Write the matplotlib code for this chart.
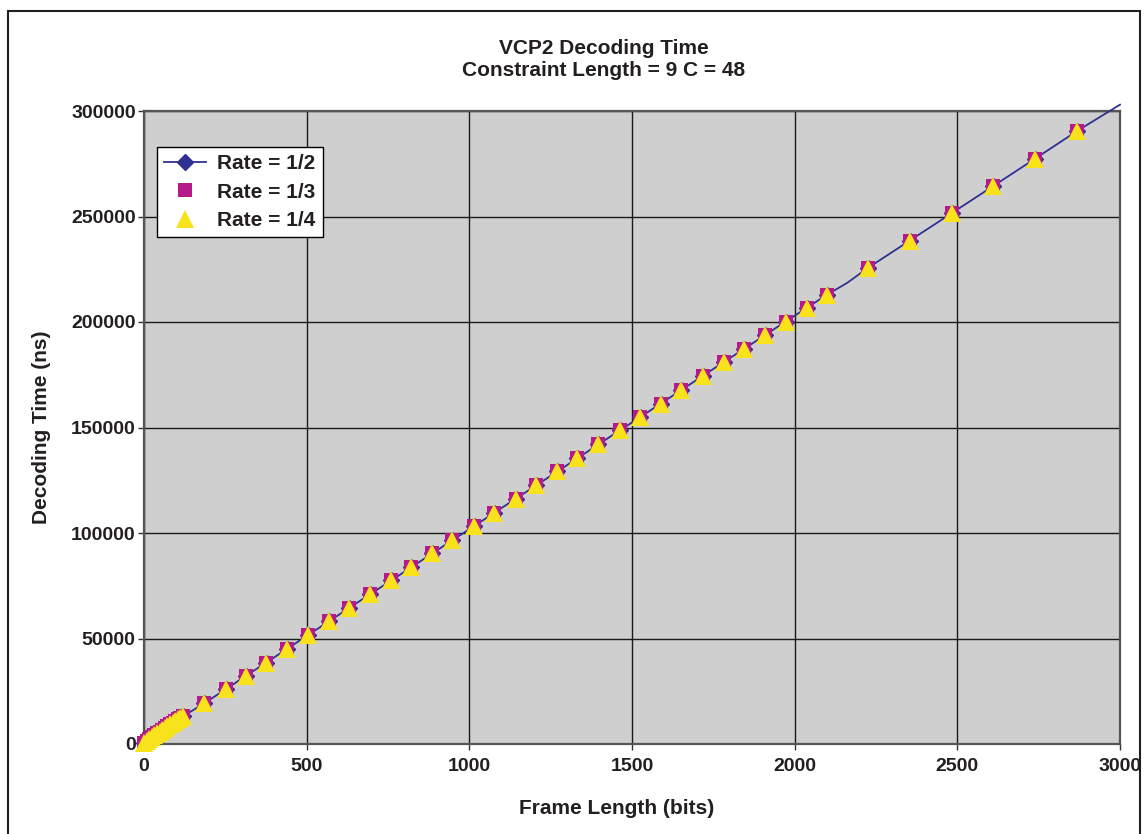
import numpy as np
import matplotlib.pyplot as plt
from matplotlib.lines import Line2D
from matplotlib.patches import Rectangle

### Data ###
frame_bits = [0, 8, 16, 24, 32, 40, 48, 56, 64, 72, 80, 88, 96, 104, 112, 120,
              185, 252, 314, 374, 440, 505, 569, 631, 695, 760, 822, 886, 948,
              1015, 1077, 1142, 1206, 1271, 1332, 1397, 1462, 1526, 1588, 1652,
              1717, 1782, 1843, 1908, 1972, 2037, 2100, 2225, 2354, 2483, 2609,
              2738, 2868]
time_ns = [700, 1600, 2500, 3300, 4200, 5000, 5900, 6700, 7600, 8400, 9300,
           10100, 10900, 11700, 12400, 13100,
           19300, 26000, 32400, 38400, 45100, 51700, 58200, 64500, 71000,
           77500, 83800, 90300, 96600, 103300, 109600, 116200, 122600, 129200,
           135400, 142000, 148600, 155000, 161300, 167800, 174400, 181000,
           187100, 193700, 200200, 206700, 213000, 225600, 238600, 251600,
           264300, 277300, 290500]

# rate 1/2 curve has two extra points (kink near 2160 and the end at 3000)
line_bits = frame_bits[:47] + [2160] + frame_bits[47:] + [3000]
line_ns = time_ns[:47] + [218400] + time_ns[47:] + [303000]

rate13_bits = list(frame_bits)
rate13_ns = list(time_ns)
rate14_bits = list(frame_bits)
rate14_ns = list(time_ns)

### Style ###
plt.rcParams['font.family'] = ['Liberation Sans', 'DejaVu Sans']
plt.rcParams['font.weight'] = 'bold'

navy = '#2e3192'
magenta = '#b5198c'
yellow = '#f7e21b'
txt = '#231f20'

fig = plt.figure(figsize=(11.46, 8.34), dpi=100)
ax = fig.add_axes([144/1146, 1 - 744/834, 976/1146, 633/834])
ax.set_facecolor('#cfcfcf')

ax.plot(line_bits, line_ns, color=navy, lw=1.3, zorder=3, clip_on=False)
ax.plot(frame_bits, time_ns, ls='none', marker='D', ms=8, color=navy, zorder=4, clip_on=False)
ax.plot(rate13_bits, rate13_ns, ls='none', marker='s', ms=10, color=magenta,
        markeredgewidth=0, zorder=5, clip_on=False)
ax.plot(rate14_bits, rate14_ns, ls='none', marker='^', ms=12.5, color=yellow,
        markeredgewidth=0, zorder=6, clip_on=False)

ax.set_xlim(0, 3000)
ax.set_ylim(0, 300000)
ax.set_xticks([0, 500, 1000, 1500, 2000, 2500, 3000])
ax.set_yticks([0, 50000, 100000, 150000, 200000, 250000, 300000])
ax.tick_params(labelsize=14, length=4, width=1, color='#333333', direction='out')
ax.tick_params(axis='x', pad=6)
ax.tick_params(axis='y', pad=2)
for lab in ax.get_xticklabels() + ax.get_yticklabels():
    lab.set_fontweight('bold')
    lab.set_color(txt)

ax.grid(True, color='#1a1a1a', lw=1)
ax.set_axisbelow(True)
for sp in ax.spines.values():
    sp.set_color('#555555')
    sp.set_linewidth(1.6)

handles = [Line2D([], [], color=navy, marker='D', ms=8, lw=1.3),
           Line2D([], [], color=magenta, marker='s', ms=10, ls='none', markeredgewidth=0),
           Line2D([], [], color=yellow, marker='^', ms=12.5, ls='none', markeredgewidth=0)]
leg = ax.legend(handles, ['Rate = 1/2', 'Rate = 1/3', 'Rate = 1/4'],
                loc='upper left', bbox_to_anchor=(0.013, 0.943), borderaxespad=0,
                fancybox=False, framealpha=1, edgecolor='black', fontsize=15,
                handlelength=2.0, labelspacing=0.45, borderpad=0.35, handletextpad=0.55)
leg.get_frame().set_linewidth(1)
leg.set_zorder(10)
for t in leg.get_texts():
    t.set_fontweight('bold')
    t.set_color(txt)

fig.text(604/1146, 1 - 48/834, 'VCP2 Decoding Time', ha='center', va='center',
         fontsize=15, fontweight='bold', color=txt)
fig.text(604/1146, 1 - 71/834, 'Constraint Length = 9 C = 48', ha='center', va='center',
         fontsize=15, fontweight='bold', color=txt)
fig.text(617/1146, 1 - 808/834, 'Frame Length (bits)', ha='center', va='center',
         fontsize=15, fontweight='bold', color=txt)
fig.text(42/1146, 1 - 427/834, 'Decoding Time (ns)', ha='center', va='center',
         rotation=90, fontsize=15, fontweight='bold', color=txt)

# outer frame, the bottom edge is cut off in the reference
fig.patches.append(Rectangle((8/1146, -0.05), 1132/1146, 1 - 11/834 + 0.05,
                             transform=fig.transFigure, fill=False,
                             edgecolor=txt, lw=1.5, zorder=20))

fig.savefig('out.png', dpi=100)
